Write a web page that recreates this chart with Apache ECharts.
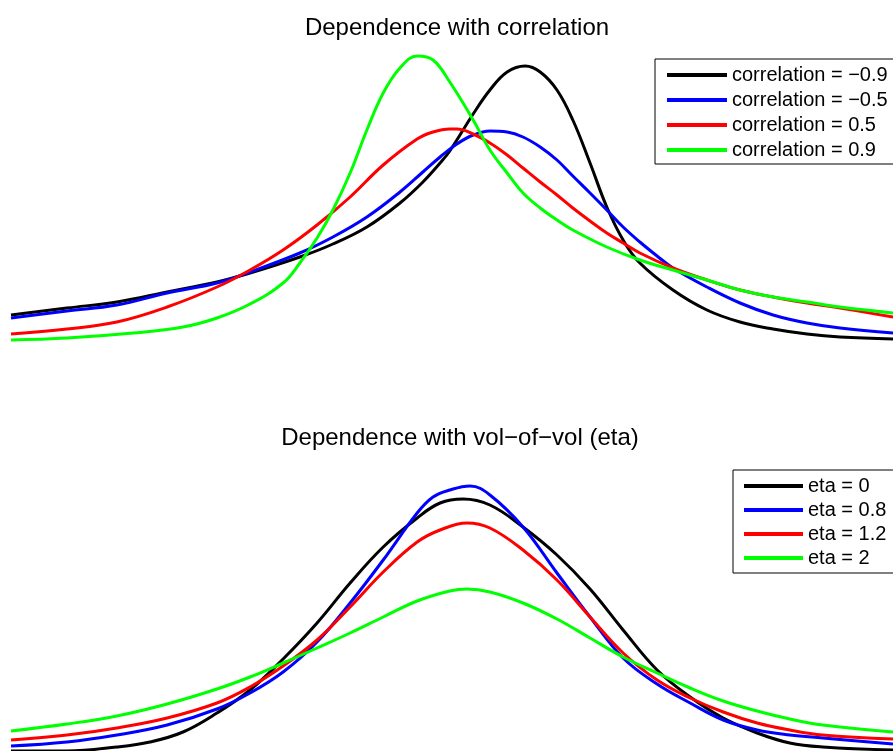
<!DOCTYPE html>
<html>
<head>
<meta charset="utf-8">
<script src="https://cdn.jsdelivr.net/npm/echarts@6/dist/echarts.min.js"></script>
<style>
  html, body { margin: 0; padding: 0; background: #fff; }
  #main { width: 893px; height: 751px; }
</style>
</head>
<body>
<div id="main"></div>
<script>
// x = log-moneyness (scaled to -1..1), y = density (arbitrary units)
var corrLabels = ['correlation = \u22120.9', 'correlation = \u22120.5', 'correlation = 0.5', 'correlation = 0.9'];
var etaLabels = ['eta = 0', 'eta = 0.8', 'eta = 1.2', 'eta = 2'];
var colors = ['#000000', '#0000ff', '#ff0000', '#00ff00'];

var corrM09 = [[-1.00,0.35],[-0.873,0.42],[-0.760,0.48],[-0.646,0.58],[-0.533,0.68],[-0.458,0.77],[-0.345,0.93],[-0.270,1.06],
    [-0.193,1.23],[-0.118,1.47],[-0.066,1.68],[-0.027,1.87],[-0.005,1.99],[0.048,2.36],[0.086,2.60],[0.125,2.78],[0.166,2.84],
    [0.200,2.78],[0.238,2.60],[0.274,2.30],[0.313,1.87],[0.351,1.43],[0.388,1.10],[0.426,0.87],[0.501,0.60],[0.578,0.40],
    [0.653,0.28],[0.728,0.21],[0.805,0.16],[0.880,0.13],[1.00,0.11]];
var corrM05 = [[-1.00,0.32],[-0.873,0.39],[-0.760,0.45],[-0.646,0.57],[-0.533,0.67],[-0.458,0.78],[-0.345,0.97],[-0.270,1.13],
    [-0.193,1.33],[-0.118,1.58],[-0.066,1.78],[-0.027,1.93],[0.011,2.06],[0.048,2.15],[0.086,2.19],[0.125,2.18],[0.161,2.13],
    [0.200,2.03],[0.238,1.90],[0.274,1.74],[0.313,1.57],[0.351,1.40],[0.388,1.23],[0.426,1.08],[0.465,0.94],[0.501,0.82],
    [0.578,0.63],[0.653,0.47],[0.728,0.35],[0.805,0.27],[0.880,0.22],[1.00,0.17]];
var corrP05 = [[-1.00,0.16],[-0.873,0.21],[-0.760,0.28],[-0.646,0.43],[-0.533,0.63],[-0.458,0.80],[-0.383,1.00],[-0.306,1.25],
    [-0.231,1.53],[-0.156,1.85],[-0.079,2.11],[-0.043,2.18],[-0.005,2.21],[0.011,2.21],[0.048,2.16],[0.086,2.07],[0.125,1.95],
    [0.161,1.82],[0.200,1.68],[0.238,1.55],[0.274,1.42],[0.313,1.29],[0.351,1.17],[0.388,1.07],[0.426,0.97],[0.501,0.82],
    [0.578,0.70],[0.653,0.60],[0.728,0.53],[0.805,0.47],[0.880,0.42],[1.00,0.33]];
var corrP09 = [[-1.00,0.10],[-0.873,0.12],[-0.723,0.17],[-0.610,0.23],[-0.533,0.32],[-0.458,0.46],[-0.383,0.67],[-0.345,0.87],
    [-0.306,1.12],[-0.270,1.40],[-0.231,1.77],[-0.193,2.20],[-0.156,2.57],[-0.118,2.82],[-0.079,2.94],[-0.043,2.90],[-0.005,2.68],
    [0.048,2.30],[0.086,2.00],[0.125,1.77],[0.161,1.57],[0.200,1.42],[0.238,1.30],[0.274,1.20],[0.351,1.03],[0.426,0.90],
    [0.501,0.80],[0.578,0.70],[0.653,0.60],[0.728,0.53],[0.805,0.48],[0.880,0.43],[1.00,0.37]];

var eta0 = [[-1.00,0.00],[-0.873,0.00],[-0.760,0.04],[-0.685,0.09],[-0.610,0.19],[-0.533,0.38],[-0.458,0.61],[-0.383,0.92],
    [-0.306,1.28],[-0.231,1.68],[-0.156,2.04],[-0.079,2.33],[-0.027,2.48],[0.025,2.52],[0.086,2.46],[0.161,2.24],[0.238,1.96],
    [0.313,1.62],[0.388,1.21],[0.465,0.81],[0.540,0.54],[0.615,0.33],[0.692,0.18],[0.766,0.08],[0.841,0.04],[1.00,0.01]];
var eta08 = [[-1.00,0.05],[-0.873,0.09],[-0.760,0.16],[-0.646,0.26],[-0.533,0.42],[-0.458,0.58],[-0.383,0.79],[-0.306,1.09],
    [-0.231,1.48],[-0.156,1.91],[-0.079,2.38],[-0.043,2.54],[-0.005,2.61],[0.041,2.65],[0.086,2.56],[0.161,2.24],[0.238,1.78],
    [0.313,1.34],[0.388,0.93],[0.465,0.67],[0.540,0.48],[0.615,0.31],[0.692,0.21],[0.766,0.16],[0.841,0.13],[1.00,0.07]];
var eta12 = [[-1.00,0.11],[-0.873,0.16],[-0.760,0.23],[-0.646,0.33],[-0.533,0.48],[-0.458,0.64],[-0.383,0.85],[-0.306,1.11],
    [-0.231,1.44],[-0.156,1.79],[-0.079,2.09],[-0.027,2.21],[0.034,2.28],[0.086,2.23],[0.161,2.01],[0.238,1.71],[0.313,1.34],
    [0.388,0.98],[0.465,0.71],[0.540,0.53],[0.615,0.39],[0.692,0.28],[0.766,0.21],[0.841,0.16],[1.00,0.12]];
var eta2 = [[-1.00,0.20],[-0.873,0.27],[-0.760,0.35],[-0.646,0.47],[-0.533,0.62],[-0.458,0.74],[-0.383,0.88],[-0.306,1.03],
    [-0.231,1.18],[-0.156,1.34],[-0.079,1.50],[-0.005,1.60],[0.034,1.62],[0.086,1.59],[0.161,1.48],[0.238,1.32],[0.313,1.13],
    [0.388,0.94],[0.465,0.78],[0.540,0.63],[0.615,0.50],[0.692,0.40],[0.766,0.32],[0.841,0.26],[1.00,0.19]];

var corrData = [corrM09, corrM05, corrP05, corrP09];
var etaData = [eta0, eta08, eta12, eta2];

var myChart = echarts.init(document.getElementById('main'));
var font = 'Liberation Sans, Arial, Helvetica, sans-serif';

function makeSeries(names, datas, idx) {
    var out = [];
    for (var i = 0; i < names.length; i++) {
        out.push({
            name: names[i],
            type: 'line',
            xAxisIndex: idx,
            yAxisIndex: idx,
            data: datas[i],
            showSymbol: false,
            smooth: 0.4,
            color: colors[i],
            lineStyle: { width: 3, color: colors[i] }
        });
    }
    return out;
}

function hiddenAxis(idx, min, max) {
    return { gridIndex: idx, type: 'value', min: min, max: max, show: false };
}

var option = {
    backgroundColor: '#ffffff',
    animation: false,
    title: [
        { text: 'Dependence with correlation', left: 452, top: 11, textAlign: 'center',
          textStyle: { fontFamily: font, fontSize: 24, fontWeight: 'normal', color: '#000' } },
        { text: 'Dependence with vol\u2212of\u2212vol (eta)', left: 455, top: 421, textAlign: 'center',
          textStyle: { fontFamily: font, fontSize: 24, fontWeight: 'normal', color: '#000' } }
    ],
    legend: [
        {
            data: corrLabels, orient: 'vertical', left: 655, top: 59,
            padding: [5, 12, 3, 12], itemGap: 3, itemWidth: 60, itemHeight: 4, icon: 'rect',
            borderColor: '#000', borderWidth: 1, selectedMode: false,
            textStyle: { fontFamily: font, fontSize: 20, lineHeight: 22, color: '#000' }
        },
        {
            data: etaLabels, orient: 'vertical', left: 733, top: 470,
            padding: [5, 12, 4, 11], itemGap: 2, itemWidth: 59, itemHeight: 4, icon: 'rect',
            borderColor: '#000', borderWidth: 1, selectedMode: false,
            textStyle: { fontFamily: font, fontSize: 20, lineHeight: 22, color: '#000' }
        }
    ],
    grid: [
        { left: 11, right: 0, top: 50, height: 300 },
        { left: 11, right: 0, top: 451, height: 300 }
    ],
    xAxis: [hiddenAxis(0, -1, 1), hiddenAxis(1, -1, 1)],
    yAxis: [hiddenAxis(0, 0, 3), hiddenAxis(1, 0, 3)],
    series: makeSeries(corrLabels, corrData, 0).concat(makeSeries(etaLabels, etaData, 1))
};

myChart.setOption(option);
</script>
</body>
</html>
